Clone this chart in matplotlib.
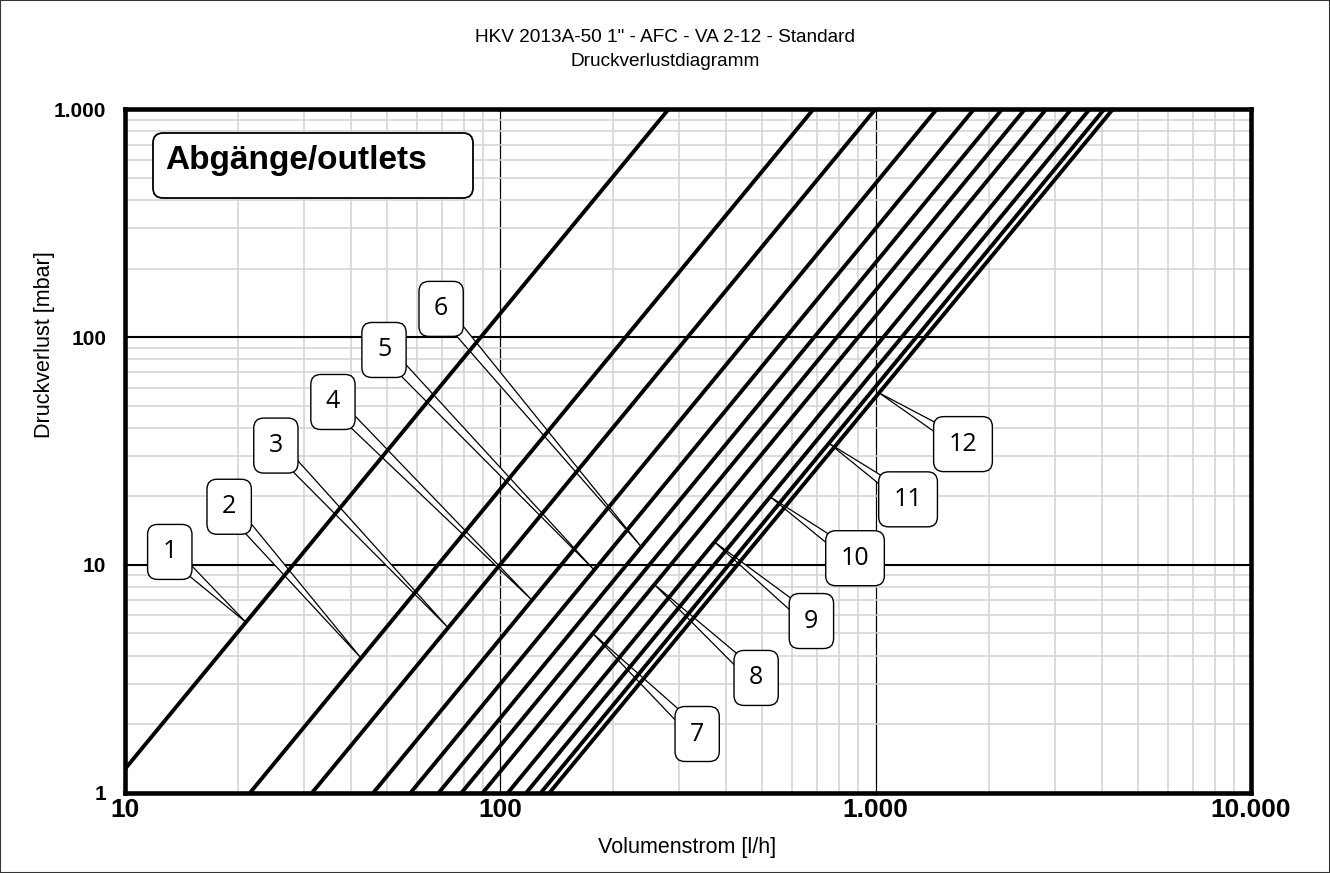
import numpy as np
import matplotlib
matplotlib.use('Agg')
import matplotlib.pyplot as plt
from matplotlib.ticker import FixedLocator, FixedFormatter, LogLocator, NullFormatter
from matplotlib.patches import FancyBboxPatch, Rectangle
from matplotlib.transforms import IdentityTransform

# ---- data ----
outlets = [str(i) for i in range(1, 13)]
# flow [l/h] where each outlet line crosses 1 mbar and 1000 mbar
q_at_1mbar = [8.9, 21.6, 31.6, 46.0, 57.8, 68.7, 79.0, 90.0, 105.0, 117.5, 128.5, 135.5]
q_at_1000mbar = [281, 683, 999, 1455, 1828, 2172, 2498, 2846, 3320, 3715, 4063, 4285]
dp_ends = [1, 1000]
# pressure loss [mbar] at which each label's leader touches its line
leader_dp = [5.6, 3.9, 5.3, 7.0, 9.5, 12.0, 5.0, 8.2, 12.6, 19.9, 34.2, 56.9]

x_ticks = [10, 100, 1000, 10000]
x_ticklabels = ['10', '100', '1.000', '10.000']
y_ticks = [1, 10, 100, 1000]
y_ticklabels = ['1', '10', '100', '1.000']

title_lines = ['HKV 2013A-50 1" - AFC - VA 2-12 - Standard', 'Druckverlustdiagramm']
x_label = 'Volumenstrom [l/h]'
y_label = 'Druckverlust [mbar]'
legend_title = 'Abgänge/outlets'

# label box centres (data coordinates) - layout
label_pos = [(13.2, 11.4), (19.0, 18.0), (25.3, 33.4), (35.9, 51.9), (49.1, 87.8),
             (69.7, 133), (335, 1.81), (481, 3.19), (675, 5.67), (882, 10.7),
             (1221, 19.4), (1710, 33.9)]

W, H = 1330, 873
fig = plt.figure(figsize=(W / 100, H / 100), dpi=100)
ax = fig.add_axes([124.5 / W, (H - 792.7) / H, 1126.5 / W, 683.4 / H])
ax.set_xscale('log')
ax.set_yscale('log')
ax.set_xlim(10, 10000)
ax.set_ylim(1, 1000)

ax.xaxis.set_major_locator(FixedLocator(x_ticks))
ax.xaxis.set_major_formatter(FixedFormatter(x_ticklabels))
ax.yaxis.set_major_locator(FixedLocator(y_ticks))
ax.yaxis.set_major_formatter(FixedFormatter(y_ticklabels))
ax.xaxis.set_minor_locator(LogLocator(base=10, subs=range(2, 10)))
ax.yaxis.set_minor_locator(LogLocator(base=10, subs=range(2, 10)))
ax.xaxis.set_minor_formatter(NullFormatter())
ax.yaxis.set_minor_formatter(NullFormatter())

ax.grid(which='minor', color='#d2d2d2', lw=1.1)
ax.grid(which='major', axis='x', color='black', lw=0.9)
ax.grid(which='major', axis='y', color='black', lw=1.5)
ax.set_axisbelow(True)
ax.tick_params(which='both', length=0)
ax.tick_params(axis='x', pad=4)
ax.tick_params(axis='y', pad=13)
for lab in ax.get_xticklabels():
    lab.set_fontfamily('Liberation Sans')
    lab.set_fontweight('bold')
    lab.set_fontsize(19)
for lab in ax.get_yticklabels():
    lab.set_fontfamily('Liberation Sans')
    lab.set_fontweight('bold')
    lab.set_fontsize(15)
for sp in ax.spines.values():
    sp.set_linewidth(3.3)
    sp.set_color('black')

# outlet lines
for q1, q2 in zip(q_at_1mbar, q_at_1000mbar):
    ax.plot([q1, q2], dp_ends, color='black', lw=2.8, solid_capstyle='butt', zorder=3)

# callouts
for lab, (lx, ly), q1, q2, dp in zip(outlets, label_pos, q_at_1mbar, q_at_1000mbar, leader_dp):
    tx = 10 ** np.interp(np.log10(dp), np.log10(dp_ends), [np.log10(q1), np.log10(q2)])
    ax.annotate('', xy=(tx, dp), xytext=(lx, ly),
                arrowprops=dict(arrowstyle='wedge,tail_width=0.9,shrink_factor=0.5',
                                fc='white', ec='black', lw=0.9, shrinkA=0, shrinkB=0),
                zorder=2.6, annotation_clip=False)
    ax.text(lx, ly, lab, ha='center', va='center', fontsize=18, family='Open Sans',
            bbox=dict(boxstyle='round,pad=0.6,rounding_size=0.4', fc='white', ec='black', lw=1.0),
            zorder=6)

# legend-like title box
box = FancyBboxPatch((153, H - 198), 320, 65, boxstyle='round,pad=0,rounding_size=10',
                     transform=IdentityTransform(), fc='white', ec='black', lw=1.3, zorder=7)
fig.add_artist(box)
fig.text(165 / W, 1 - 169 / H, legend_title, ha='left', va='baseline', fontsize=24,
         fontweight='bold', family='Liberation Sans', zorder=8)

# titles and axis labels
fig.text(665 / W, 1 - 37 / H, title_lines[0], ha='center', va='center', fontsize=13.7,
         family='Liberation Sans')
fig.text(665 / W, 1 - 61 / H, title_lines[1], ha='center', va='center', fontsize=13.7,
         family='Liberation Sans')
fig.text(687 / W, 1 - 847 / H, x_label, ha='center', va='center', fontsize=15.5,
         family='Liberation Sans')
fig.text(45 / W, 1 - 345 / H, y_label, ha='center', va='center', rotation=90, fontsize=15.5,
         family='Liberation Sans')

fig.add_artist(Rectangle((0, 0), 1, 1, transform=fig.transFigure, fill=False, ec='#333333', lw=1.5))

fig.savefig('out.png', dpi=100)
